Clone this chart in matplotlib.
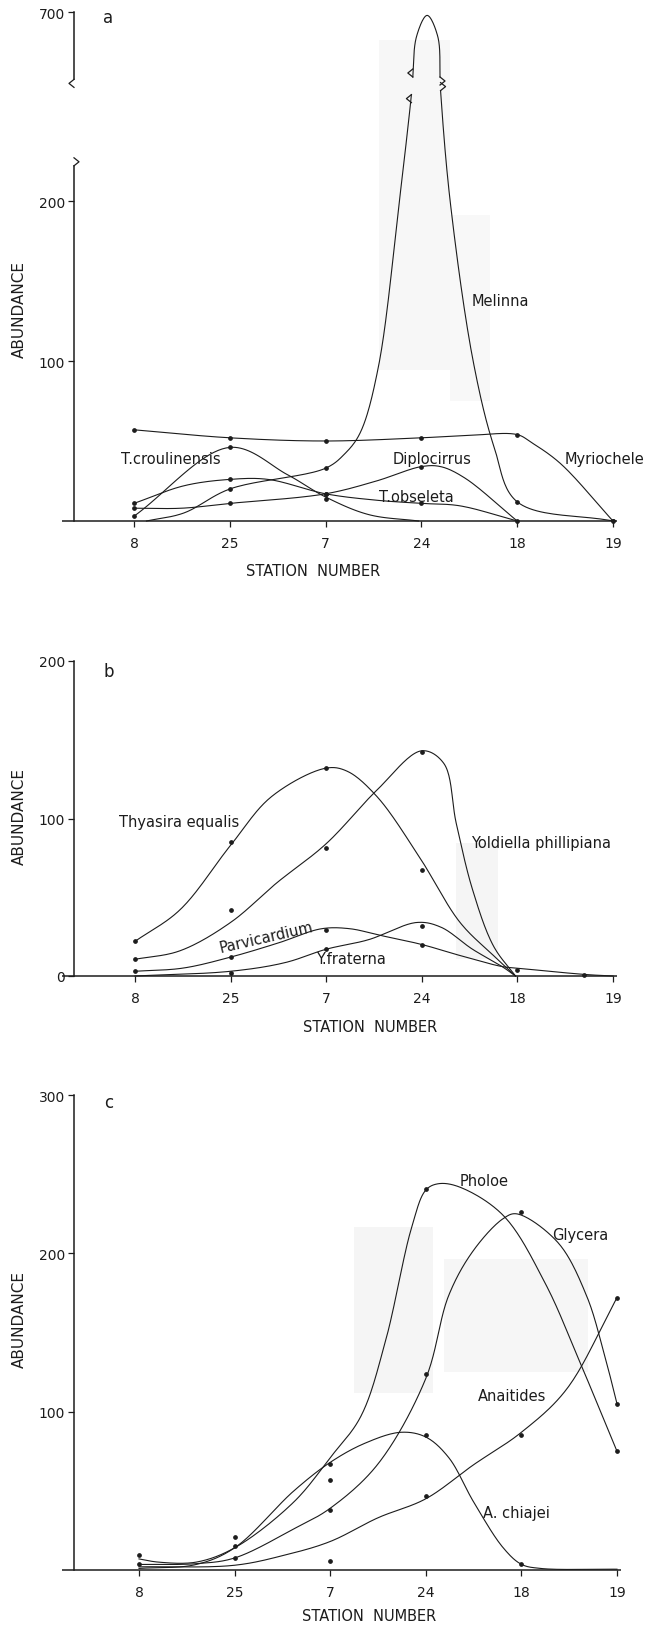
import numpy as np
import matplotlib
matplotlib.use('Agg')
import matplotlib.pyplot as plt
from matplotlib.patches import Rectangle

W, H = 658, 1631
INK = '#1c1c1c'
plt.rcParams['font.family'] = ['DejaVu Sans']

stations = ['8', '25', '7', '24', '18', '19']

# --- a: polychaetes (x = position along the station sequence) ---
myriochele_x = [0, 1, 2, 3, 3.5, 4, 4.15, 4.45, 5]
myriochele_y = [57, 52, 50, 52, 53.5, 54, 49, 36, 0]
myriochele_dx = [0, 1, 2, 3, 4, 5]
myriochele_dy = [57, 52, 50, 52, 54, 0]

melinna_x = [0.13, 0.52, 1, 2, 2.2, 2.36, 2.55, 2.77, 2.90, 2.95, 3.06, 3.17, 3.20, 3.30, 3.54, 3.76, 4, 5]
melinna_y = [0, 5, 20, 33, 42, 55, 96, 200, 269, 685, 698, 685, 269, 200, 100, 46, 12, 0]
melinna_dx = [1, 2, 4, 5]
melinna_dy = [20, 33, 12, 0]

croulinensis_x = [0, 1, 1.6, 2, 2.45, 2.97]
croulinensis_y = [3, 46, 29, 15, 4, 0]
croulinensis_dx = [0, 1, 2]
croulinensis_dy = [3, 46, 14]

obseleta_x = [0, 0.52, 1, 1.4, 2, 2.53, 3, 3.4, 4]
obseleta_y = [11, 22, 26, 26, 17, 13, 11, 9.5, 0]
obseleta_dx = [0, 1, 2, 3]
obseleta_dy = [11, 26, 17, 11]

diplocirrus_x = [0, 0.5, 1, 2, 2.53, 3, 3.2, 3.45, 4]
diplocirrus_y = [8, 8, 11, 17, 25, 34, 34, 27, 0]
diplocirrus_dx = [0, 1, 2, 3, 4]
diplocirrus_dy = [8, 11, 17, 34, 0]

# --- b: bivalves ---
thyasira_x = [0, 0.47, 1, 1.43, 2, 2.22, 2.53, 2.97, 3.4, 3.75, 3.98]
thyasira_y = [22, 42, 83, 114, 132, 130, 114, 76, 34, 13, 0]
thyasira_dx = [0, 1, 2, 3]
thyasira_dy = [22, 85, 132, 67]

yoldiella_x = [0, 0.47, 1, 1.48, 2, 2.53, 3, 3.23, 3.36, 3.53, 3.75, 3.98]
yoldiella_y = [10.6, 16, 34, 59, 84, 118, 143, 135, 97, 55, 19, 0]
yoldiella_dx = [0, 1, 2, 3]
yoldiella_dy = [10.6, 42, 81, 142]

parvicardium_x = [0, 0.5, 1, 1.5, 1.95, 2.25, 2.55, 3, 3.4, 3.84, 4, 4.7, 5]
parvicardium_y = [3, 5, 12, 21, 30, 30, 26, 20, 13, 6, 5, 1, 0]
parvicardium_dx = [0, 1, 2, 3, 4, 4.7]
parvicardium_dy = [3, 12, 29, 19.5, 4, 0.5]

fraterna_x = [0, 1, 1.57, 2, 2.44, 2.95, 3.2, 3.53, 3.84, 3.98]
fraterna_y = [0, 3, 8.5, 17, 23, 34, 31, 17, 6, 0]
fraterna_dx = [1, 2, 3]
fraterna_dy = [2, 17, 32]

# --- c: polychaetes ---
pholoe_x = [0, 0.2, 0.6, 1, 1.62, 2, 2.32, 2.58, 2.85, 3, 3.13, 3.35, 3.81, 4.25, 4.6, 5]
pholoe_y = [7, 5, 5, 14, 43, 71, 97, 145, 216, 240, 244, 242, 224, 181, 133, 75]
pholoe_dx = [0, 1, 2, 3, 5]
pholoe_dy = [9.5, 21, 67, 240.5, 75]

glycera_x = [0, 0.6, 1, 1.62, 2, 2.5, 3, 3.24, 3.5, 3.81, 3.95, 4.38, 4.68, 4.86, 5]
glycera_y = [3.5, 4, 7.6, 26, 39, 67, 121, 173.5, 202, 222, 225, 207, 173.5, 138, 105]
glycera_dx = [0, 1, 2, 3, 4, 5]
glycera_dy = [3.5, 7.6, 38, 124, 226, 105]

chiajei_x = [0, 0.6, 1, 1.62, 2, 2.36, 2.74, 3, 3.24, 3.5, 3.81, 4, 4.2, 5]
chiajei_y = [1, 3.5, 14, 50, 68, 80, 87, 84, 71, 43, 14, 3.6, 1, 0.5]
chiajei_dx = [1, 2, 3, 4]
chiajei_dy = [15, 57, 85.5, 3.6]

anaitides_x = [0, 1, 1.53, 2, 2.5, 3, 3.5, 4, 4.47, 5]
anaitides_y = [2, 3, 9.5, 18, 33, 45, 66.5, 87, 114, 172]
anaitides_dx = [2, 3, 4, 5]
anaitides_dy = [6, 47, 85.5, 172]


def catmull(xs, ys, sx, sy, n=24):
    # centripetal Catmull-Rom through the knots, worked out in pixel units
    pts = np.column_stack([np.asarray(xs, float) * sx, np.asarray(ys, float) * sy])
    pts = np.vstack([2 * pts[0] - pts[1], pts, 2 * pts[-1] - pts[-2]])
    out = [pts[1]]
    for i in range(1, len(pts) - 2):
        p0, p1, p2, p3 = pts[i - 1:i + 3]
        t0 = 0.0
        t1 = t0 + np.hypot(*(p1 - p0)) ** 0.5
        t2 = t1 + np.hypot(*(p2 - p1)) ** 0.5
        t3 = t2 + np.hypot(*(p3 - p2)) ** 0.5
        t = np.linspace(t1, t2, n)[1:, None]
        a1 = (t1 - t) / (t1 - t0) * p0 + (t - t0) / (t1 - t0) * p1
        a2 = (t2 - t) / (t2 - t1) * p1 + (t - t1) / (t2 - t1) * p2
        a3 = (t3 - t) / (t3 - t2) * p2 + (t - t2) / (t3 - t2) * p3
        b1 = (t2 - t) / (t2 - t0) * a1 + (t - t0) / (t2 - t0) * a2
        b2 = (t3 - t) / (t3 - t1) * a2 + (t - t1) / (t3 - t1) * a3
        out.extend((t2 - t) / (t2 - t1) * b1 + (t - t1) / (t2 - t1) * b2)
    out = np.array(out)
    return out[:, 0] / sx, out[:, 1] / sy


fig = plt.figure(figsize=(W / 100, H / 100), dpi=100)
fig.patch.set_facecolor('white')

# faint grey patches of the printed page
for x1, y1, x2, y2, c in [(379, 41, 450, 371, '#f7f7f7'), (450, 216, 490, 402, '#f8f8f8'),
                          (456, 844, 498, 960, '#f5f5f5'),
                          (354, 1228, 433, 1394, '#f5f5f5'), (444, 1260, 588, 1373, '#f6f6f6')]:
    fig.add_artist(Rectangle((x1 / W, 1 - y2 / H), (x2 - x1) / W, (y2 - y1) / H,
                             transform=fig.transFigure, facecolor=c, edgecolor='none', zorder=-1))


def make_panel(x8, gap, y0, top, k, left_spine=True):
    left, right = 74, 622
    ax = fig.add_axes([left / W, 1 - y0 / H, (right - left) / W, (y0 - top) / H])
    ax.set_xlim((left - x8) / gap, (right - x8) / gap)
    ax.set_ylim(0, (y0 - top) / k)
    ax.patch.set_alpha(0)
    for s in ['top', 'right', 'bottom']:
        ax.spines[s].set_visible(False)
    ax.spines['left'].set_visible(left_spine)
    ax.spines['left'].set_linewidth(1.1)
    ax.spines['left'].set_color(INK)
    ax.plot([(62 - x8) / gap, 5.04], [0, 0], color=INK, lw=1.1, clip_on=False,
            solid_capstyle='butt')
    ax.set_xticks(range(len(stations)))
    ax.set_xticklabels(stations)
    ax.tick_params(axis='x', length=4, width=0.9, pad=7, labelsize=10, colors=INK)
    ax.tick_params(axis='y', length=4.5, width=0.9, pad=2, labelsize=10, colors=INK)
    ax.sx, ax.sy = gap, k
    return ax


def curve(ax, xs, ys, dx, dy, fy=None):
    fy = fy or (lambda v: np.asarray(v, float))
    cx, cy = catmull(xs, fy(ys), ax.sx, ax.sy)
    ax.plot(cx, cy, color=INK, lw=0.8, clip_on=False)
    ax.plot(dx, fy(dy), 'o', color=INK, ms=2.4, clip_on=False)
    return cx, cy


def chevron(ax, x, y, side, up):
    # small bracket mark where a line is broken
    ddx = side * 5 / ax.sx
    ddy = 4 / ax.sy
    s = 1 if up else -1
    ax.plot([x, x + ddx, x], [y, y + s * ddy, y + s * 2 * ddy], color=INK, lw=0.9,
            clip_on=False)


def ylabel(yc):
    fig.text(19 / W, 1 - yc / H, 'ABUNDANCE', rotation=90, ha='center', va='center',
             fontsize=11, color=INK)


def xlabel(xc, yc):
    fig.text(xc / W, 1 - yc / H, 'STATION  NUMBER', ha='center', va='center',
             fontsize=10.5, color=INK)


# ---------------- panel a ----------------
def broken(v):
    v = np.asarray(v, float)
    return np.where(v <= 270, v, np.where(v >= 659, v - 382, 270 + (v - 270) * 7 / 389))


axa = make_panel(134, 95.8, 522, 13, 1.6, left_spine=False)
axa.set_yticks([100, 200, float(broken(700))])
axa.set_yticklabels(['100', '200', '700'])
xa = (74 - 134) / 95.8
axa.plot([xa, xa], [0, 222], color=INK, lw=1.1, clip_on=False)
axa.plot([xa, xa], [276, 318.1], color=INK, lw=1.1, clip_on=False)
chevron(axa, xa, 222, 1, True)
chevron(axa, xa, 276, -1, False)

for xs, ys, dx, dy in [(myriochele_x, myriochele_y, myriochele_dx, myriochele_dy),
                       (croulinensis_x, croulinensis_y, croulinensis_dx, croulinensis_dy),
                       (obseleta_x, obseleta_y, obseleta_dx, obseleta_dy),
                       (diplocirrus_x, diplocirrus_y, diplocirrus_dx, diplocirrus_dy)]:
    curve(axa, xs, ys, dx, dy)

# Melinna runs off the lower scale; draw it on the broken scale with a gap
mx, my = catmull(melinna_x, broken(melinna_y), axa.sx, axa.sy)
gap = (my > 269) & (my < 277)
my_g = np.where(gap, np.nan, my)
axa.plot(mx, my_g, color=INK, lw=0.8, clip_on=False)
axa.plot(melinna_dx, melinna_dy, 'o', color=INK, ms=2.4)
idx = np.where(gap)[0]
runs = np.split(idx, np.where(np.diff(idx) > 1)[0] + 1)
for r in runs:
    lo, hi = r[0] - 1, r[-1] + 1
    side = -1 if mx[lo] < melinna_x[int(np.argmax(melinna_y))] else 1
    chevron(axa, mx[lo], my[lo], side, False)
    chevron(axa, mx[hi], my[hi], side, True)

axa.text(-0.32, 315, 'a', fontsize=12, va='center', color=INK)
axa.text(3.52, 137.5, 'Melinna', fontsize=10.5, va='center', color=INK)
axa.text(-0.14, 39, 'T.croulinensis', fontsize=10.5, va='center', color=INK)
axa.text(2.70, 39, 'Diplocirrus', fontsize=10.5, va='center', color=INK)
axa.text(4.50, 39, 'Myriochele', fontsize=10.5, va='center', color=INK)
axa.text(2.56, 15, 'T.obseleta', fontsize=10.5, va='center', color=INK)
ylabel(310)
xlabel(313, 572)

# ---------------- panel b ----------------
axb = make_panel(135, 95.6, 977, 662, 1.575)
axb.set_yticks([0, 100, 200])
for xs, ys, dx, dy in [(thyasira_x, thyasira_y, thyasira_dx, thyasira_dy),
                       (yoldiella_x, yoldiella_y, yoldiella_dx, yoldiella_dy),
                       (parvicardium_x, parvicardium_y, parvicardium_dx, parvicardium_dy),
                       (fraterna_x, fraterna_y, fraterna_dx, fraterna_dy)]:
    curve(axb, xs, ys, dx, dy)
axb.text(-0.33, 193.6, 'b', fontsize=12, va='center', color=INK)
axb.text(-0.17, 98.4, 'Thyasira equalis', fontsize=10.5, va='center', color=INK)
axb.text(3.51, 85, 'Yoldiella phillipiana', fontsize=10.5, va='center', color=INK)
axb.text(1.37, 24.8, 'Parvicardium', fontsize=10.5, va='center', ha='center',
         rotation=13, color=INK)
axb.text(1.89, 10.8, 'Y.fraterna', fontsize=10.5, va='center', color=INK)
ylabel(817)
xlabel(370, 1028)

# ---------------- panel c ----------------
axc = make_panel(139, 95.6, 1571, 1096, 1.583)
axc.set_yticks([100, 200, 300])
for xs, ys, dx, dy in [(pholoe_x, pholoe_y, pholoe_dx, pholoe_dy),
                       (glycera_x, glycera_y, glycera_dx, glycera_dy),
                       (chiajei_x, chiajei_y, chiajei_dx, chiajei_dy),
                       (anaitides_x, anaitides_y, anaitides_dx, anaitides_dy)]:
    curve(axc, xs, ys, dx, dy)
axc.text(-0.36, 295.6, 'c', fontsize=12, va='center', color=INK)
axc.text(3.35, 246, 'Pholoe', fontsize=10.5, va='center', color=INK)
axc.text(4.32, 212, 'Glycera', fontsize=10.5, va='center', color=INK)
axc.text(3.54, 110, 'Anaitides', fontsize=10.5, va='center', color=INK)
axc.text(3.60, 36.6, 'A. chiajei', fontsize=10.5, va='center', color=INK)
ylabel(1319)
xlabel(369, 1617)

fig.savefig('out.png', dpi=100, facecolor='white')
